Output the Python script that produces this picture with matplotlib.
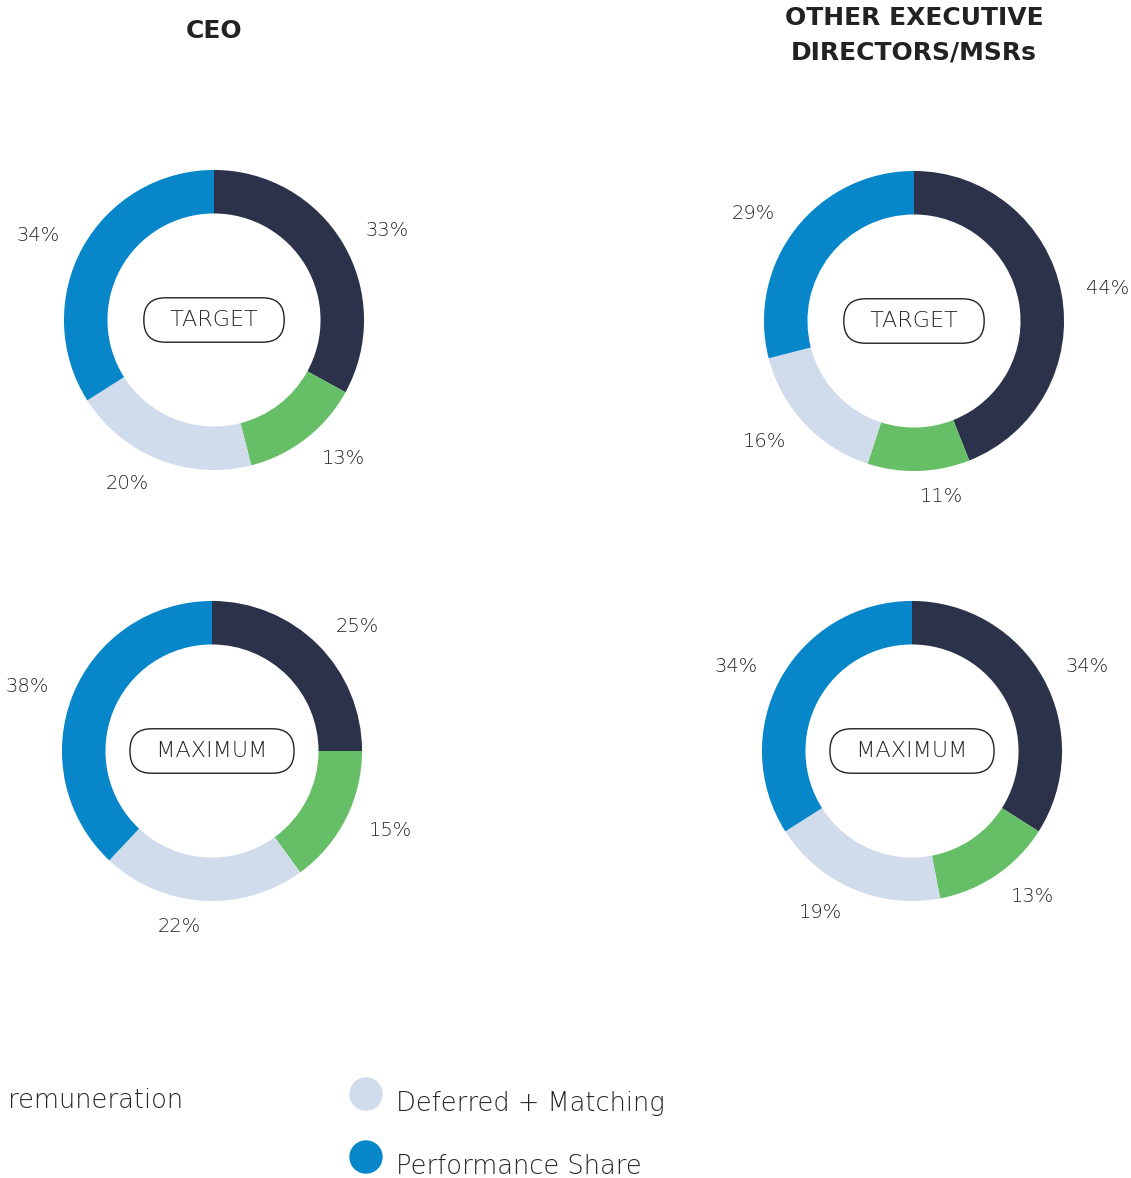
import numpy as np
import matplotlib.pyplot as plt
from matplotlib.patches import Circle

plt.rcParams['font.family'] = ['DejaVu Sans']

# data
segments = ['Fixed remuneration', 'Annual bonus', 'Deferred + Matching', 'Performance Share']
colors = ['#2b3249', '#66bf66', '#d0dcec', '#0786c9']
ceo_target = [33, 13, 20, 34]
ceo_max = [25, 15, 22, 38]
other_target = [44, 11, 16, 29]
other_max = [34, 13, 19, 34]
col_titles = ['CEO', 'OTHER EXECUTIVE\nDIRECTORS/MSRs']
row_labels = ['TARGET', 'MAXIMUM']

W, H = 1131, 1178
fig = plt.figure(figsize=(W / 100, H / 100), dpi=100)
grey = '#262626'


def donut(cx, cy, values, center_label):
    # axes 400x400 px centred on the donut, radius 1 = 150 px
    ax = fig.add_axes([(cx - 200) / W, (H - cy - 200) / H, 400 / W, 400 / H])
    ax.pie(values, colors=colors, startangle=90, counterclock=False, radius=1,
           labels=[f'{v}%' for v in values], labeldistance=1.17,
           textprops=dict(fontsize=14, color=grey, fontweight='light'),
           wedgeprops=dict(width=0.29, edgecolor='none'))
    ax.text(0, 0, '  ' + center_label + '  ', ha='center', va='center',
            fontsize=16, color=grey, fontweight='light',
            bbox=dict(boxstyle='round,pad=0.55,rounding_size=0.97',
                      fc='white', ec='#222222', lw=1.0))
    ax.set_xlim(-1.333, 1.333)
    ax.set_ylim(-1.333, 1.333)
    ax.set_aspect('equal')
    ax.axis('off')


donut(214, 320, ceo_target, row_labels[0])
donut(914, 321, other_target, row_labels[0])
donut(212, 751, ceo_max, row_labels[1])
donut(912, 751, other_max, row_labels[1])

# column titles
fig.text(214 / W, 1 - 31 / H, col_titles[0], ha='center', va='center',
         fontsize=18, fontweight='bold', color='#222222')
fig.text(914 / W, 1 - 35 / H, col_titles[1], ha='center', va='center',
         fontsize=18, fontweight='bold', color='#222222', linespacing=1.55)

# legend (partly cut off at the left edge)
fig.text(8 / W, 1 - 1101 / H, 'remuneration', ha='left', va='center',
         fontsize=18.5, color=grey, fontweight='light')
lax = fig.add_axes([0, 0, 1, 1])
lax.set_xlim(0, W)
lax.set_ylim(H, 0)
lax.axis('off')
for (y, name, c) in [(1094, segments[2], colors[2]), (1157, segments[3], colors[3])]:
    lax.add_patch(Circle((366, y), 16, color=c))
    lax.text(396, y + 9, name, ha='left', va='center', fontsize=18.5,
             color=grey, fontweight='light')

fig.savefig('out.png', dpi=100, facecolor='white')
